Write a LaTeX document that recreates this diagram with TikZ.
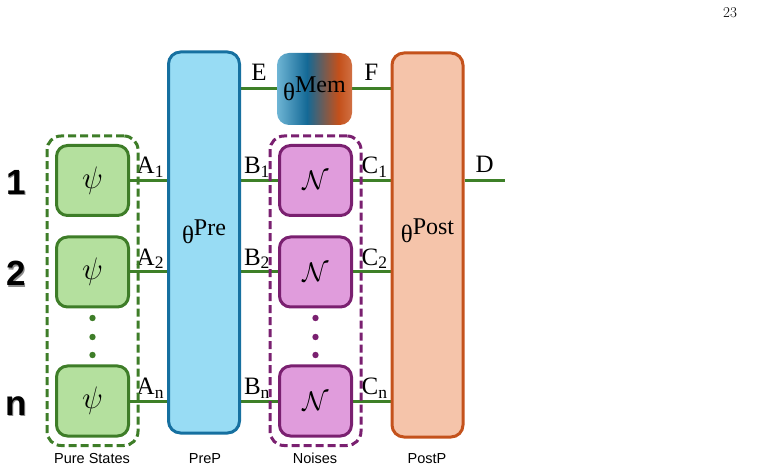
\documentclass[tikz,border=0pt]{standalone}
\usepackage{fontspec}
\usepackage{graphicx}
\setmainfont{Liberation Serif}
\setsansfont{Liberation Sans}
\newfontfamily\lmfont{Latin Modern Roman}
\usetikzlibrary{fit,backgrounds}

\definecolor{psigreen}{RGB}{62,125,40}
\definecolor{psifill}{RGB}{180,224,158}
\definecolor{wiregreen}{RGB}{62,128,40}
\definecolor{preblue}{RGB}{22,112,160}
\definecolor{prefill}{RGB}{152,220,244}
\definecolor{postorange}{RGB}{196,82,28}
\definecolor{postfill}{RGB}{245,196,170}
\definecolor{noisepurple}{RGB}{122,32,112}
\definecolor{noisefill}{RGB}{224,156,220}
\definecolor{memA}{RGB}{150,214,240}
\definecolor{memB}{RGB}{20,105,150}
\definecolor{memC}{RGB}{196,80,26}
\definecolor{memD}{RGB}{246,202,180}
\pgfdeclarehorizontalshading{memshade}{100bp}{color(0bp)=(memA); color(22bp)=(memA!80!memB); color(45bp)=(memB); color(66bp)=(memC); color(100bp)=(memD)}

\newcommand\thlbl[1]{{\fontsize{25}{25}\selectfont θ}\raisebox{8pt}{\fontsize{24}{24}\selectfont #1}}

\begin{document}
\begin{tikzpicture}[x=1pt,y=-1pt,
    statebox/.style={draw=psigreen,fill=psifill,line width=3pt,rounded corners=11pt,
      minimum width=72pt,minimum height=70pt,font=\fontsize{20.74}{24}\selectfont},
    noisebox/.style={statebox,draw=noisepurple,fill=noisefill},
    bigbox/.style={line width=3pt,rounded corners=12pt,minimum width=71pt},
    groupbox/.style={line width=3pt,dash pattern=on 8pt off 4pt,rounded corners=14pt,inner sep=8pt},
    wire/.style={draw=wiregreen,line width=3pt},
    wlbl/.style={font=\fontsize{25}{27}\selectfont,inner sep=1.5pt},
    caplbl/.style={font=\sffamily\fontsize{14.5}{16}\selectfont,anchor=base},
    rowno/.style={font=\sffamily\bfseries\fontsize{35}{37}\selectfont,anchor=base}]
\useasboundingbox (0,0) rectangle (766,470);

\node[font=\lmfont\fontsize{15}{17}\selectfont] (page) at (730,13) {23};

% pure states
\node[statebox] (psi1) at (92.5,180.5) {\scalebox{1.5}{$\psi$}};
\node[statebox] (psi2) at (92.5,272) {\scalebox{1.5}{$\psi$}};
\node[statebox] (psin) at (92.5,401) {\scalebox{1.5}{$\psi$}};
\node[groupbox,draw=psigreen,fit=(psi1)(psin)] (pure) {};

% noises
\node[noisebox] (noise1) at (315.5,180.5) {\scalebox{1.3}{$\mathcal{N}$}};
\node[noisebox] (noise2) at (315.5,272) {\scalebox{1.3}{$\mathcal{N}$}};
\node[noisebox] (noisen) at (315.5,401) {\scalebox{1.3}{$\mathcal{N}$}};
\node[groupbox,draw=noisepurple,fit=(noise1)(noisen)] (noises) {};

\foreach \y in {318,337,355}{
  \fill[psigreen] (92.5,\y) circle (3.2);
  \fill[noisepurple] (315.5,\y) circle (3.2);
}

% processes
\node[bigbox,draw=preblue,fill=prefill,minimum height=381pt] (pre) at (204,242.5) {};
\node[bigbox,draw=postorange,fill=postfill,minimum height=384pt] (post) at (427.5,245) {};
\node[rounded corners=12pt,minimum width=75pt,minimum height=72pt,shading=memshade] (mem) at (314.5,89) {\thlbl{Mem}};
\node (prelbl) at ([yshift=11pt]pre.center) {\thlbl{Pre}};
\node (postlbl) at ([yshift=14pt]post.center) {\thlbl{Post}};

% wires
\begin{scope}[on background layer]
\foreach \r in {1,2,n}{
  \draw[wire] (psi\r.east) -- (psi\r.east -| pre.west)
    node[wlbl,anchor=south east]{A\textsubscript{\r}};
  \draw[wire] (pre.east |- noise\r.west) -- (noise\r.west)
    node[pos=0,wlbl,anchor=south west]{B\textsubscript{\r}};
  \draw[wire] (noise\r.east) -- (noise\r.east -| post.west)
    node[wlbl,anchor=south east]{C\textsubscript{\r}};
}
\draw[wire] (pre.east |- mem.west) -- (mem.west) node[wlbl,midway,above=5pt]{E};
\draw[wire] (mem.east) -- (mem.east -| post.west) node[wlbl,midway,above=5pt]{F};
\coordinate (dend) at (505,180.5);
\draw[wire] (post.east |- dend) -- (dend) node[wlbl,midway,above=5pt]{D};
\end{scope}

% row numbers
\foreach \r/\y in {1/180.5,2/272,n/401}{
  \node[rowno,text=black!45] at (17.5,\y+15.5) {\r};
  \node[rowno] (row\r) at (16,\y+14) {\r};
}

% captions
\node[caplbl] (purecap) at (92,463) {Pure States};
\node[caplbl] (precap) at (205,463) {PreP};
\node[caplbl] (noisecap) at (315,463) {Noises};
\node[caplbl] (postcap) at (427,463) {PostP};
\end{tikzpicture}
\end{document}
